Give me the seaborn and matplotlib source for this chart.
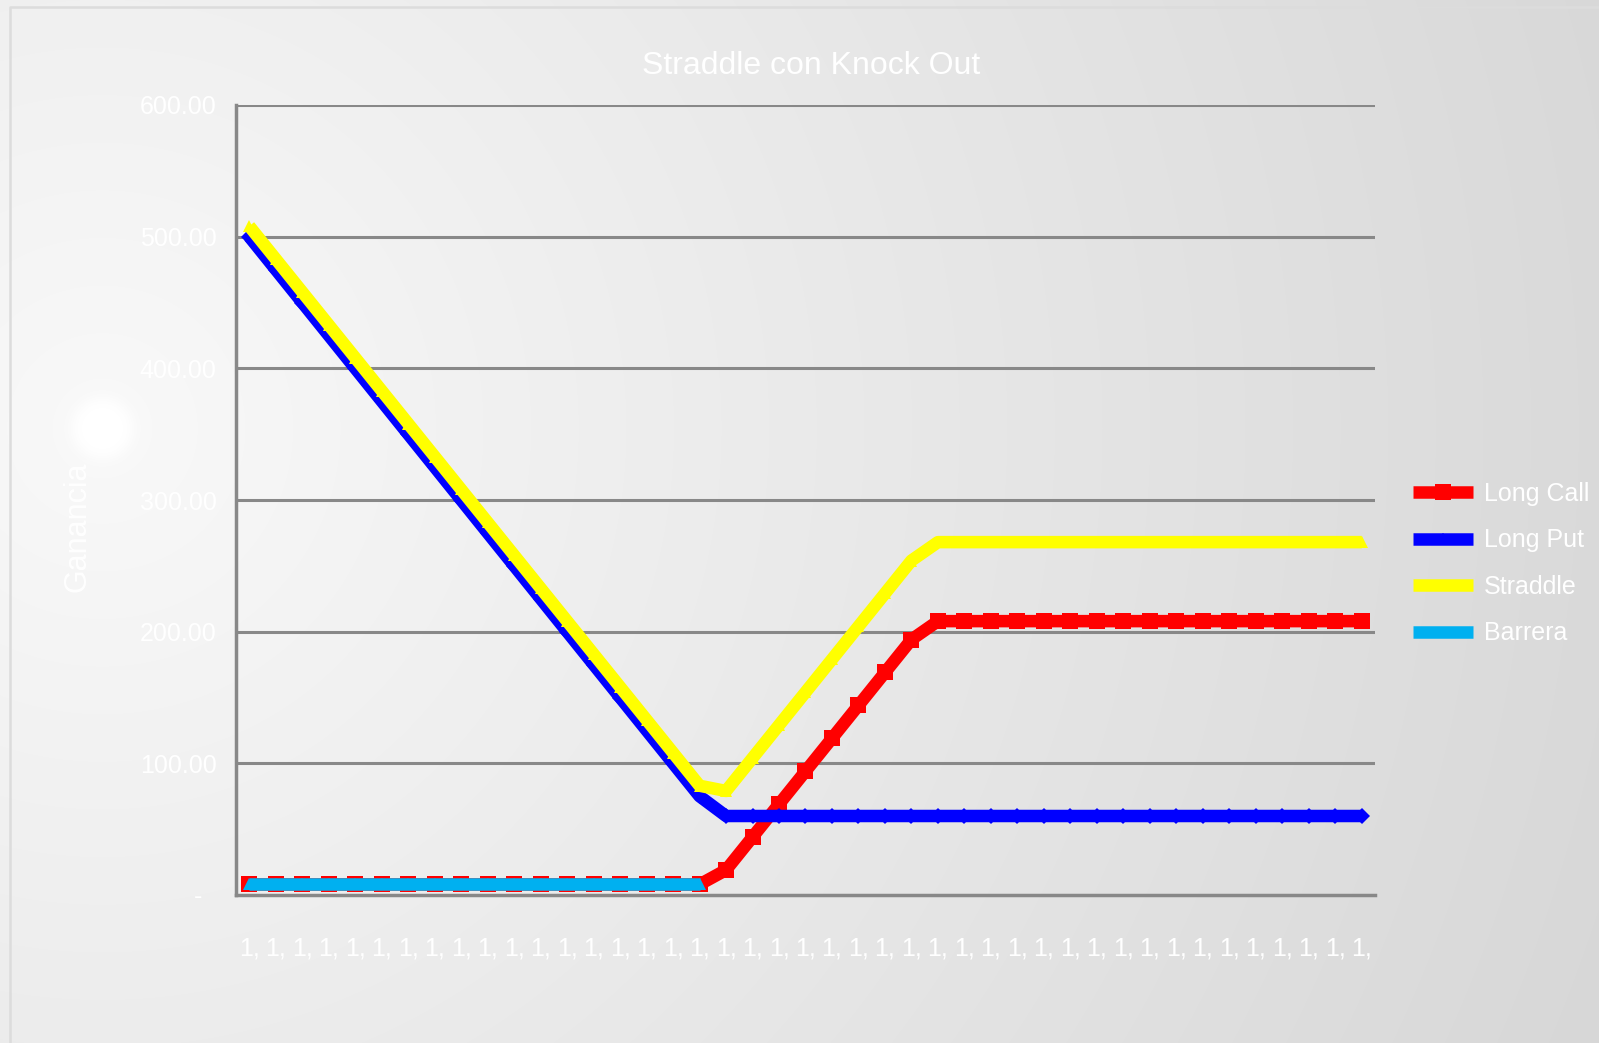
import matplotlib
matplotlib.use("Agg")
import matplotlib.pyplot as plt
import numpy as np
import pandas as pd
import seaborn as sns
from matplotlib.lines import Line2D

# --- Data ---
n_points = 43
x_labels = ["1,"] * n_points
long_call = [8] * 18 + [19, 44, 69, 94, 119, 144, 169, 194] + [208] * 17
long_put = [500, 475, 450, 425, 400, 375, 350, 325, 300, 275, 250, 225,
            200, 175, 150, 125, 100, 75] + [60] * 25
straddle = [c + p for c, p in zip(long_call, long_put)]
barrera = [8] * 18
series_names = ["Long Call", "Long Put", "Straddle", "Barrera"]
y_ticks = [0, 100, 200, 300, 400, 500, 600]
y_tick_labels = ["-  ", "100.00", "200.00", "300.00", "400.00", "500.00", "600.00"]

rows = []
for name, vals in zip(series_names, [long_call, long_put, straddle, barrera]):
    for i, v in enumerate(vals):
        rows.append({"idx": i, "valor": v, "serie": name})
df = pd.DataFrame(rows)

colors = {"Long Call": "#ff0000", "Long Put": "#0000ff",
          "Straddle": "#ffff00", "Barrera": "#00b0f0"}
markers = {"Long Call": "s", "Long Put": "D", "Straddle": "^", "Barrera": "^"}

sns.set_style("white")
plt.rcParams["font.family"] = ["Liberation Sans", "DejaVu Sans"]

W, H = 1599, 1043
fig = plt.figure(figsize=(W / 100, H / 100), dpi=100)

# --- Background radial gradient with a small bright spot ---
bg = fig.add_axes([0, 0, 1, 1], zorder=-10)
yy, xx = np.mgrid[0:H, 0:W]
d = np.hypot(xx - 102, yy - 428)
v = 249 - 0.021 * d + 7 / (1 + np.exp((d - 30) / 4))
v = np.clip(v, 0, 255) / 255.0
bg.imshow(np.dstack([v, v, v]), extent=[0, W, H, 0], aspect="auto")
bg.plot([10, 10, W + 20], [H + 20, 7, 7], color="#dcdcdc", lw=1.8)
bg.set_xlim(0, W)
bg.set_ylim(H, 0)
bg.axis("off")

# --- Main plot ---
ax = fig.add_axes([236 / W, 1 - 895 / H, (1375 - 236) / W, (895 - 105) / H])
ax.patch.set_alpha(0)

for yt in y_ticks[1:]:
    ax.axhline(yt, color="#888888", lw=2.2, zorder=0)

sns.lineplot(data=df, x="idx", y="valor", hue="serie", style="serie",
             hue_order=series_names, style_order=series_names,
             palette=colors, markers=markers, dashes=False,
             linewidth=9, markersize=8, markeredgewidth=0,
             solid_capstyle="butt", ax=ax, legend=False, zorder=3)
for line in ax.get_lines():
    if line.get_color() == "#ff0000":
        line.set_markersize(11)

ax.set_xlim(-0.5, n_points - 0.5)
ax.set_ylim(0, 600)
ax.set_xticks(range(n_points))
ax.set_xticklabels(x_labels)
ax.set_yticks(y_ticks)
ax.set_yticklabels(y_tick_labels)
ax.tick_params(axis="x", length=0, pad=30, labelsize=18, colors="white")
ax.tick_params(axis="y", length=0, pad=14, labelsize=18, colors="white")
ax.set_xlabel("")
ax.set_ylabel("Ganancia", color="white", fontsize=22)
ax.yaxis.set_label_coords(-0.1256, 0.466)

for side in ["top", "right"]:
    ax.spines[side].set_visible(False)
for side in ["left", "bottom"]:
    ax.spines[side].set_color("#888888")
    ax.spines[side].set_linewidth(2.5)
ax.grid(False)

# --- Legend ---
handles = [Line2D([0], [0], color=colors[n], lw=9, marker=markers[n],
                  markersize=11 if n == "Long Call" else 6, markeredgewidth=0,
                  solid_capstyle="butt")
           for n in series_names]
leg = fig.legend(handles, series_names, loc="upper left",
                 bbox_to_anchor=(1413 / W, 1 - 482 / H), frameon=False,
                 fontsize=18, handlelength=2.4, handletextpad=0.45,
                 labelspacing=0.9, borderaxespad=0, borderpad=0)
for t in leg.get_texts():
    t.set_color("white")

fig.text(811 / W, 1 - 66 / H, "Straddle con Knock Out", color="white",
         fontsize=23, ha="center", va="center")

plt.savefig("out.png", dpi=100)
